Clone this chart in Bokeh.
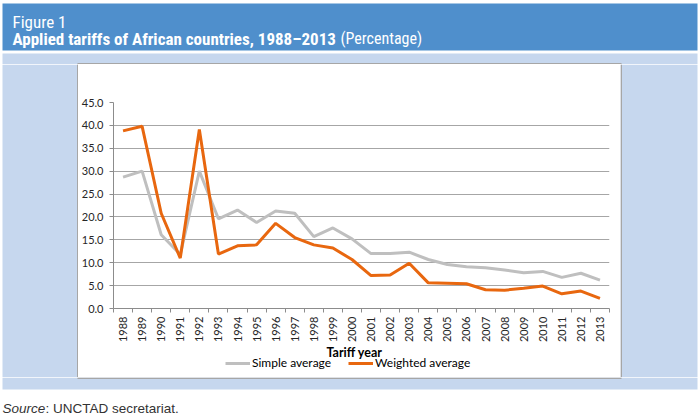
from bokeh.plotting import figure
from bokeh.layouts import column, row
from bokeh.models import (Range1d, FixedTicker, NumeralTickFormatter, Label, Legend,
                          LegendItem, ColumnDataSource)
from bokeh.embed import file_html
from bokeh.resources import INLINE
from math import pi

# ---- data ----
years = [1988, 1989, 1990, 1991, 1992, 1993, 1994, 1995, 1996, 1997, 1998, 1999, 2000,
         2001, 2002, 2003, 2004, 2005, 2006, 2007, 2008, 2009, 2010, 2011, 2012, 2013]
simple_average = [28.7, 30.0, 16.1, 11.8, 30.0, 19.6, 21.5, 18.8, 21.3, 20.8, 15.7, 17.6, 15.2,
                  12.0, 12.0, 12.3, 10.7, 9.6, 9.1, 8.9, 8.4, 7.8, 8.1, 6.8, 7.7, 6.2]
weighted_average = [38.8, 39.8, 20.8, 11.0, 39.1, 11.9, 13.7, 13.9, 18.6, 15.5, 13.9, 13.2, 10.7,
                    7.2, 7.3, 9.9, 5.6, 5.5, 5.4, 4.1, 4.0, 4.4, 4.9, 3.2, 3.8, 2.2]
y_ticks = [0, 5, 10, 15, 20, 25, 30, 35, 40, 45]
series_names = ["Simple average", "Weighted average"]
x_title = "Tariff year"
fig_label = "Figure 1"
title_bold = "Applied tariffs of African countries, 1988\u20132013"
title_unit = "(Percentage)"
source_italic = "Source"
source_rest = ": UNCTAD secretariat."

NARROW = "Liberation Sans Narrow, Roboto Condensed, Arial Narrow, sans-serif"
SANS = "Liberation Sans"
BODY = "Lato"
BLUE = "#4F8FCC"
LIGHT = "#C6D7EE"
FRAME_GRAY = "#A6A6A6"
SIMPLE_COLOR = "#BFBFBF"
WEIGHTED_COLOR = "#E8670F"


def pane(w, h, x0, y0, xr=None):
    """A plain figure whose frame fills the canvas; coordinates are page pixels."""
    x_start, x_end = xr if xr else (x0, x0 + w)
    f = figure(width=w, height=h, output_backend="svg", toolbar_location=None,
               x_range=Range1d(x_start, x_end), y_range=Range1d(y0 + h, y0),
               x_axis_type=None, y_axis_type=None, min_border=0)
    f.outline_line_color = None
    f.background_fill_color = "white"
    f.border_fill_color = "white"
    f.grid.visible = False
    return f


def lab(f, x, y, text, font, size, color, style="normal", align="left", baseline="alphabetic"):
    f.add_layout(Label(x=x, y=y, text=text, text_font=font, text_font_size=size,
                       text_color=color, text_font_style=style, text_align=align,
                       text_baseline=baseline))


# ---- top band (page y 0..64) ----
top = pane(700, 64, 0, 0)
top.quad(left=2, right=697, top=3, bottom=50, fill_color=BLUE, line_color=None)
top.quad(left=2, right=697, top=53, bottom=64, fill_color=LIGHT, line_color=None)
top.quad(left=77, right=621, top=62.5, bottom=64, fill_color=FRAME_GRAY, line_color=None)
lab(top, 12, 21, fig_label, NARROW, "17px", "white")
lab(top, 12, 38, title_bold, NARROW, "17px", "white", style="bold")
lab(top, 340, 38, title_unit, NARROW, "16px", "white")

# ---- side bands (page y 64..377) ----
left = pane(78, 313, 0, 64)
left.quad(left=2, right=78, top=64, bottom=377, fill_color=LIGHT, line_color=None)
left.quad(left=76.5, right=78, top=64, bottom=377, fill_color=FRAME_GRAY, line_color=None)

right = pane(80, 313, 620, 64)
right.quad(left=620, right=697, top=64, bottom=377, fill_color=LIGHT, line_color=None)
right.quad(left=620, right=621.5, top=64, bottom=377, fill_color=FRAME_GRAY, line_color=None)

# ---- bottom band (page y 377..417) ----
bottom = pane(700, 40, 0, 377)
bottom.quad(left=2, right=697, top=377, bottom=389, fill_color=LIGHT, line_color=None)
bottom.quad(left=77, right=621, top=377, bottom=378.5, fill_color=FRAME_GRAY, line_color=None)
lab(bottom, 2, 408, source_italic, SANS, "13.5px", "#333333", style="italic")
lab(bottom, 45, 408, source_rest, SANS, "13.5px", "#333333")

# ---- chart (page y 64..345) ----
src = ColumnDataSource(dict(year=years, simple=simple_average, weighted=weighted_average))
p = figure(width=542, height=281, output_backend="svg", toolbar_location=None,
           x_range=Range1d(years[0] - 0.5, years[-1] + 0.5), y_range=Range1d(0, 45),
           min_border_left=35, min_border_right=11, min_border_top=38, min_border_bottom=36)
p.border_fill_color = "white"
p.background_fill_color = "white"
p.outline_line_color = None

p.line("year", "simple", source=src, line_color=SIMPLE_COLOR, line_width=3)
p.line("year", "weighted", source=src, line_color=WEIGHTED_COLOR, line_width=3)

p.yaxis.ticker = FixedTicker(ticks=y_ticks)
p.yaxis.formatter = NumeralTickFormatter(format="0.0")
p.yaxis.major_label_text_font = BODY
p.yaxis.major_label_text_font_size = "11px"
p.yaxis.major_label_text_color = "#262626"
p.yaxis.axis_line_color = "#8C8C8C"
p.yaxis.major_tick_line_color = "#8C8C8C"
p.yaxis.major_tick_in = 0
p.yaxis.major_tick_out = 4
p.yaxis.minor_tick_line_color = None
p.yaxis.major_label_standoff = 6

p.xaxis.ticker = FixedTicker(ticks=years, minor_ticks=[y - 0.5 for y in years] + [years[-1] + 0.5])
p.xaxis.major_label_orientation = pi / 2
p.xaxis.major_label_text_font = BODY
p.xaxis.major_label_text_font_size = "11px"
p.xaxis.major_label_text_color = "#262626"
p.xaxis.axis_line_color = "#8C8C8C"
p.xaxis.major_tick_line_color = None
p.xaxis.minor_tick_line_color = "#8C8C8C"
p.xaxis.minor_tick_in = 0
p.xaxis.minor_tick_out = 4
p.xaxis.major_label_standoff = 2

p.xgrid.grid_line_color = None
p.ygrid.ticker = FixedTicker(ticks=y_ticks)
p.ygrid.grid_line_color = "#A6A6A6"
p.ygrid.grid_line_width = 1

# ---- axis title + legend strip (page y 345..377) ----
# the column aligns this strip's frame with the chart frame (page x 113..609)
strip = pane(542, 32, 78, 345, xr=(113, 609))
lab(strip, 326, 344.8, x_title, BODY, "12.5px", "black", style="bold", align="left", baseline="top")
# legend swatches use the same series (outside this strip's visible window)
s1 = strip.line("year", "simple", source=src, line_color=SIMPLE_COLOR, line_width=3)
s2 = strip.line("year", "weighted", source=src, line_color=WEIGHTED_COLOR, line_width=3)
legend = Legend(items=[LegendItem(label=series_names[0], renderers=[s1]),
                       LegendItem(label=series_names[1], renderers=[s2])],
                orientation="horizontal", location=(112, 7),
                label_text_font=BODY, label_text_font_size="12px", label_text_color="black",
                glyph_width=25, glyph_height=14, label_height=14, label_standoff=2, spacing=17,
                padding=0, margin=0, border_line_color=None, background_fill_alpha=0)
strip.add_layout(legend, "center")

layout = column(top, row(left, column(p, strip), right), bottom)
open("out.html", "w").write(file_html(layout, INLINE))
